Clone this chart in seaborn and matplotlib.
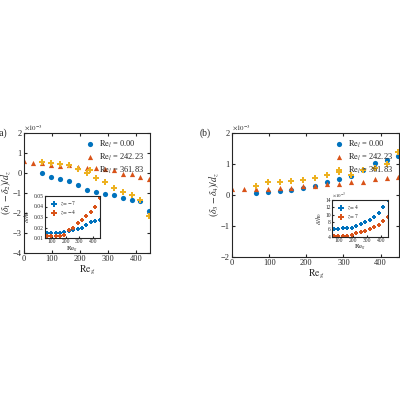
import matplotlib
matplotlib.use("Agg")
import matplotlib.pyplot as plt
import seaborn as sns
import pandas as pd

sns.set_style("ticks")
plt.rcParams['font.family'] = ['Liberation Serif', 'DejaVu Serif']
plt.rcParams['mathtext.fontset'] = 'stix'

reg_all = [0, 32, 64, 96, 128, 160, 192, 224, 256, 288, 320, 352, 384, 416, 448]
reg_part = reg_all[2:]
labels = [r'$\mathrm{Re}_l$ = 0.00', r'$\mathrm{Re}_l$ = 242.23', r'$\mathrm{Re}_l$ = 361.83']
colors = ['#0072BD', '#D95319', '#EDB120']
markers = ['o', '^', 'P']

a_blue = [0, -0.2, -0.3, -0.4, -0.6, -0.85, -0.95, -1.05, -1.1, -1.25, -1.35, -1.4, -1.9]
a_red = [0.6, 0.5, 0.5, 0.4, 0.35, 0.4, 0.3, 0.25, 0.25, 0.2, 0.15, -0.05, -0.08, -0.2, -0.3]
a_yel = [0.55, 0.5, 0.45, 0.4, 0.2, 0.0, -0.25, -0.45, -0.75, -0.95, -1.1, -1.35, -2.15]
b_blue = [0.05, 0.1, 0.13, 0.16, 0.22, 0.3, 0.4, 0.5, 0.6, 0.8, 1.02, 1.12, 1.25]
b_red = [0.18, 0.18, 0.18, 0.2, 0.22, 0.22, 0.27, 0.3, 0.35, 0.35, 0.4, 0.42, 0.5, 0.55, 0.57]
b_yel = [0.3, 0.4, 0.42, 0.45, 0.48, 0.55, 0.65, 0.75, 0.65, 0.8, 0.85, 1.0, 1.38]

ia_blue = [0.015, 0.015, 0.015, 0.015, 0.016, 0.017, 0.018, 0.019, 0.02, 0.022, 0.025, 0.026, 0.027]
ia_red = [0.012, 0.012, 0.012, 0.012, 0.013, 0.018, 0.02, 0.024, 0.027, 0.031, 0.035, 0.04, 0.048]
ib_blue = [6, 6, 6.3, 6.3, 6.5, 7, 7.5, 8, 8.7, 9.5, 10.5, 12, 14]
ib_red = [4.2, 4.2, 4.2, 4.3, 4.5, 5, 5.3, 5.7, 6, 6.7, 7.3, 8.3, 9.5]

fig = plt.figure(figsize=(4, 4), dpi=100)
axa = fig.add_axes([0.06, 0.368, 0.315, 0.3])
axb = fig.add_axes([0.58, 0.358, 0.418, 0.31])

def panel(ax, series, ylim, yticks, ylabel, tag, legend):
    for (x, y), lab, c, m in zip(series, labels, colors, markers):
        sns.scatterplot(x=x, y=y, ax=ax, color=c, marker=m, s=14, linewidth=0, label=lab, legend=legend)
    ax.set_xlim(0, 450)
    ax.set_ylim(*ylim)
    ax.set_yticks(yticks)
    ax.set_xticks([0, 100, 200, 300, 400])
    ax.tick_params(labelsize=6, length=2, pad=1.5, direction='in', top=True, right=True)
    ax.set_xlabel(r'$\mathrm{Re}_g$', fontsize=7, labelpad=1)
    ax.set_ylabel(ylabel, fontsize=7, labelpad=0)
    ax.text(0, 1.01, r'$\times10^{-3}$', transform=ax.transAxes, fontsize=5, va='bottom')
    ax.text(-0.13, 1.0, tag, transform=ax.transAxes, fontsize=7, va='center', ha='right')
    if legend:
        ax.legend(loc='upper right', fontsize=6, frameon=False, handletextpad=0.1, borderpad=0.2, labelspacing=0.2, markerscale=1)

panel(axa, [(reg_part, a_blue), (reg_all, a_red), (reg_part, a_yel)], (-4, 2), [-4, -3, -2, -1, 0, 1, 2],
      r'$(\delta_1-\delta_2)/d_z$', '(a)', True)
panel(axb, [(reg_part, b_blue), (reg_all, b_red), (reg_part, b_yel)], (-2, 2), [-2, -1, 0, 1, 2],
      r'$(\delta_3-\delta_4)/d_z$', '(b)', True)

def inset(rect, yb, yr, labs, ylim, yticks, mult):
    ax = fig.add_axes(rect)
    sns.scatterplot(x=reg_part, y=yb, ax=ax, color=colors[0], marker='P', s=5, linewidth=0, label=labs[0])
    sns.scatterplot(x=reg_part, y=yr, ax=ax, color=colors[1], marker='P', s=5, linewidth=0, label=labs[1])
    ax.set_xlim(50, 450)
    ax.set_ylim(*ylim)
    ax.set_yticks(yticks)
    ax.set_xticks([100, 200, 300, 400])
    ax.tick_params(labelsize=4, length=1.5, pad=1, direction='in')
    ax.set_xlabel(r'$\mathrm{Re}_g$', fontsize=5, labelpad=0)
    ax.set_ylabel(r'$\delta/h_0$', fontsize=5, labelpad=1)
    if mult:
        ax.text(0, 1.01, r'$\times10^{-3}$', transform=ax.transAxes, fontsize=3.5, va='bottom')
    ax.legend(loc='upper left', fontsize=4, frameon=False, handletextpad=0.05, borderpad=0.2,
              labelspacing=0.1, markerscale=2)

inset([0.112, 0.405, 0.138, 0.105], ia_blue, ia_red, [r'$z=-7$', r'$z=-4$'], (0.01, 0.05),
      [0.01, 0.02, 0.03, 0.04, 0.05], False)
inset([0.83, 0.408, 0.14, 0.092], ib_blue, ib_red, [r'$z=4$', r'$z=7$'], (4, 14),
      [4, 6, 8, 10, 12, 14], True)

fig.savefig('out.png', dpi=100)
